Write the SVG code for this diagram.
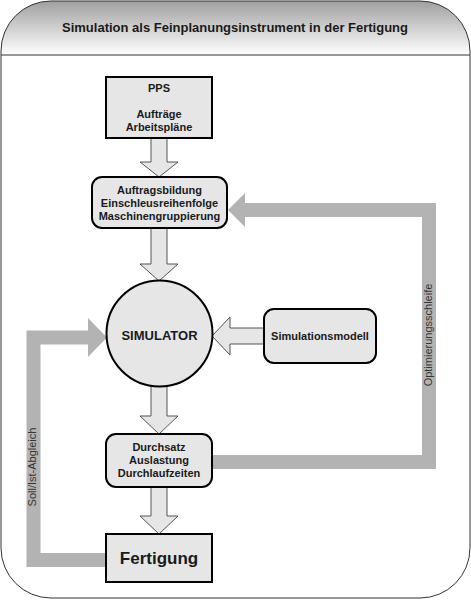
<svg xmlns="http://www.w3.org/2000/svg" width="471" height="601" viewBox="0 0 471 601">
<defs>
<linearGradient id="hdr" x1="0" y1="0" x2="0" y2="1">
<stop offset="0" stop-color="#a0a0a0"/>
<stop offset="1" stop-color="#ffffff"/>
</linearGradient>
</defs>
<style>
.box{fill:#e6e6e6;stroke:#000;stroke-width:2}
.harrow{fill:#e6e6e6;stroke:#555;stroke-width:1}
.bar{fill:none;stroke:#b3b3b3;stroke-width:14;stroke-linejoin:miter}
.head{fill:#b3b3b3}
.t{font-family:"Liberation Sans",Arial,sans-serif;font-weight:bold;font-size:11px;fill:#1a1a1a;text-anchor:middle}
.lbl{font-family:"Liberation Sans",Arial,sans-serif;font-size:11px;fill:#333;text-anchor:middle}
</style>
<g id="frame">
<rect x="1" y="1" width="469" height="597" rx="50" ry="50" fill="#fff"/>
<path d="M1,55 V51 A50,50 0 0 1 51,1 H420 A50,50 0 0 1 470,51 V55 Z" fill="url(#hdr)"/>
<rect x="1" y="1" width="469" height="597" rx="50" ry="50" fill="none" stroke="#333" stroke-width="1"/>
<line x1="1" y1="55" x2="470" y2="55" stroke="#333" stroke-width="1"/>
<text x="235" y="32" class="t" style="font-size:13px">Simulation als Feinplanungsinstrument in der Fertigung</text>
</g>
<g id="connectors">
<polygon class="harrow" points="151,138 151,162 140,162 159,177 178,162 167,162 167,138"/>
<polygon class="harrow" points="151,228 151,264 140,264 159,281 178,264 167,264 167,228"/>
<polygon class="harrow" points="151,386 151,416 140,416 159,434 178,416 167,416 167,386"/>
<polygon class="harrow" points="151,487 151,516 140,516 159,534 178,516 167,516 167,487"/>
<polygon class="harrow" points="264,328 230,328 230,317 212,336 230,355 230,344 264,344"/>
<polyline class="bar" points="212,462 429,462 429,210 244,210"/>
<polygon class="head" points="245,193 228,210 245,227"/>
<polyline class="bar" points="106,560 33.5,560 33.5,337.5 89,337.5"/>
<polygon class="head" points="88,318 107,337.5 88,357"/>
<text class="lbl" transform="translate(432,335) rotate(-90)">Optimierungsschleife</text>
<text class="lbl" transform="translate(36,467) rotate(-90)">Soll/Ist-Abgleich</text>
</g>
<g id="pps">
<rect class="box" x="106" y="77" width="106" height="61"/>
<text class="t" x="159" y="92">PPS</text>
<text class="t" x="159" y="118">Aufträge</text>
<text class="t" x="159" y="131">Arbeitspläne</text>
</g>
<g id="auftragsbildung">
<rect class="box" x="92" y="177" width="135" height="51" rx="10" ry="10"/>
<text class="t" x="159.5" y="194">Auftragsbildung</text>
<text class="t" x="159.5" y="207">Einschleusreihenfolge</text>
<text class="t" x="159.5" y="220">Maschinengruppierung</text>
</g>
<g id="simulator">
<circle class="box" cx="159.5" cy="333.5" r="53"/>
<text class="t" x="159.5" y="339.5" style="font-size:13px">SIMULATOR</text>
</g>
<g id="simulationsmodell">
<rect class="box" x="264" y="309" width="112" height="54" rx="10" ry="10"/>
<text class="t" x="320" y="340">Simulationsmodell</text>
</g>
<g id="durchsatz">
<rect class="box" x="106" y="434" width="106" height="53" rx="10" ry="10"/>
<text class="t" x="159" y="451">Durchsatz</text>
<text class="t" x="159" y="464">Auslastung</text>
<text class="t" x="159" y="477">Durchlaufzeiten</text>
</g>
<g id="fertigung">
<rect class="box" x="106" y="534" width="106" height="48"/>
<text class="t" x="159" y="564" style="font-size:17px">Fertigung</text>
</g>
</svg>
